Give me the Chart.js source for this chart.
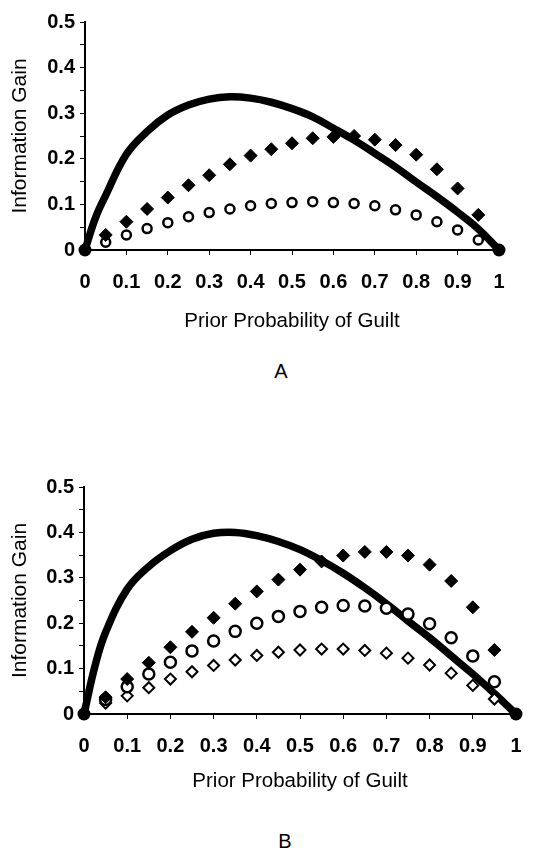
<!DOCTYPE html>
<html>
<head>
<meta charset="utf-8">
<script src="https://cdn.jsdelivr.net/npm/chart.js@4.4.0/dist/chart.umd.min.js"></script>
<style>
    body { margin: 0; background: #fff; }
    #page { position: relative; width: 546px; height: 848px; overflow: hidden; font-family: "Liberation Sans", Arial, sans-serif; }
    canvas { position: absolute; left: 0; }
    .panel-label { position: absolute; width: 40px; text-align: center; font-size: 20px; color: #000; }
</style>
</head>
<body>
<div id="page">
    <canvas id="chart-a" width="546" height="334" style="top:0px"></canvas>
    <canvas id="chart-b" width="546" height="354" style="top:440px"></canvas>
    <div class="panel-label" style="left:261px; top:360px;">A</div>
    <div class="panel-label" style="left:265px; top:830px;">B</div>
</div>
<script>
// x positions of the markers and of the curve
const pointX = [0.05, 0.1, 0.15, 0.2, 0.25, 0.3, 0.35, 0.4, 0.45, 0.5, 0.55, 0.6, 0.65, 0.7, 0.75, 0.8, 0.85, 0.9, 0.95];
const curveX = [0, 0.025, 0.05, 0.1, 0.15, 0.2, 0.25, 0.3, 0.35, 0.4, 0.45, 0.5, 0.55, 0.6, 0.65, 0.7, 0.75, 0.8, 0.85, 0.9, 0.95, 1];

const xTickLabels = ["0", "0.1", "0.2", "0.3", "0.4", "0.5", "0.6", "0.7", "0.8", "0.9", "1"];
const yTickLabels = ["0", "0.1", "0.2", "0.3", "0.4", "0.5"];

// panel A
const curveA = [0, 0.07, 0.12, 0.21, 0.26, 0.296, 0.318, 0.331, 0.336, 0.333, 0.324, 0.31, 0.292, 0.267, 0.241, 0.212, 0.182, 0.149, 0.117, 0.083, 0.046, 0];
const filledDiamondsA = [0.033, 0.062, 0.09, 0.115, 0.142, 0.164, 0.188, 0.207, 0.221, 0.234, 0.245, 0.248, 0.25, 0.242, 0.23, 0.209, 0.177, 0.135, 0.077];
const circlesA = [0.017, 0.033, 0.047, 0.06, 0.073, 0.082, 0.09, 0.097, 0.102, 0.104, 0.106, 0.104, 0.102, 0.097, 0.088, 0.077, 0.062, 0.044, 0.022];

// panel B
const curveB = [0, 0.104, 0.18, 0.275, 0.325, 0.36, 0.385, 0.398, 0.4, 0.393, 0.38, 0.362, 0.338, 0.31, 0.278, 0.243, 0.205, 0.168, 0.128, 0.088, 0.045, 0];
const filledDiamondsB = [0.037, 0.077, 0.113, 0.147, 0.181, 0.212, 0.243, 0.27, 0.296, 0.318, 0.336, 0.349, 0.357, 0.357, 0.349, 0.329, 0.293, 0.235, 0.141];
const circlesB = [0.032, 0.06, 0.088, 0.114, 0.139, 0.161, 0.182, 0.2, 0.215, 0.226, 0.235, 0.239, 0.238, 0.233, 0.22, 0.199, 0.168, 0.128, 0.071];
const openDiamondsB = [0.024, 0.04, 0.058, 0.077, 0.093, 0.107, 0.119, 0.129, 0.136, 0.141, 0.143, 0.143, 0.14, 0.134, 0.123, 0.108, 0.09, 0.063, 0.033];

const FONT = "'Liberation Sans', Arial, sans-serif";

function toPoints(xs, ys) {
    return xs.map(function(x, i) { return {x: x, y: ys[i]}; });
}

function markerSet(values, style, radius, fill, borderWidth) {
    return {
        data: toPoints(pointX, values),
        pointStyle: style,
        pointRadius: radius,
        pointBackgroundColor: fill,
        pointBorderColor: "#000",
        pointBorderWidth: borderWidth,
        showLine: false,
        clip: false
    };
}

function curveSet(values) {
    return {
        data: toPoints(curveX, values),
        showLine: true,
        borderColor: "#000",
        borderWidth: 7.5,
        tension: 0.4,
        pointRadius: function(ctx) {
            return (ctx.dataIndex === 0 || ctx.dataIndex === curveX.length - 1) ? 6.5 : 0;
        },
        pointBackgroundColor: "#000",
        pointBorderWidth: 0,
        clip: false
    };
}

/**
 * Draws one panel; the curve comes last so it is painted under the markers
 */
function drawPanel(canvasId, datasets, box) {
    const configChart = {
        type: "scatter",
        data: { datasets: datasets },
        options: {
            responsive: false,
            animation: false,
            layout: { padding: { top: box.top, right: box.right, bottom: 0, left: 0 } },
            plugins: { legend: { display: false }, tooltip: { enabled: false } },
            scales: {
                x: {
                    type: "linear",
                    min: 0,
                    max: 1,
                    border: { color: "#000", width: 2 },
                    grid: { drawOnChartArea: false, drawTicks: true, tickLength: 5, color: "#000", lineWidth: 1 },
                    ticks: {
                        stepSize: 0.1,
                        padding: 15,
                        color: "#000",
                        maxRotation: 0,
                        autoSkip: false,
                        font: { family: FONT, size: 20, weight: "bold" },
                        callback: function(value, index) { return xTickLabels[index]; }
                    },
                    title: {
                        display: true,
                        text: "Prior Probability of Guilt",
                        color: "#000",
                        font: { family: FONT, size: 20.5 },
                        padding: { top: 0, bottom: 0 }
                    },
                    afterFit: function(scale) { scale.height = box.xHeight; }
                },
                y: {
                    type: "linear",
                    min: 0,
                    max: 0.5,
                    border: { color: "#000", width: 2 },
                    grid: { drawOnChartArea: false, drawTicks: true, tickLength: 5, color: "#000", lineWidth: 1 },
                    ticks: {
                        stepSize: 0.05,
                        padding: 5,
                        color: "#000",
                        autoSkip: false,
                        font: { family: FONT, size: 20, weight: "bold" },
                        callback: function(value, index) { return index % 2 === 0 ? yTickLabels[index / 2] : ""; }
                    },
                    title: {
                        display: true,
                        text: "Information Gain",
                        color: "#000",
                        font: { family: FONT, size: 21 },
                        padding: { top: 8, bottom: 0 }
                    },
                    afterFit: function(scale) { scale.width = box.yWidth; }
                }
            }
        }
    };

    return new Chart(document.getElementById(canvasId), configChart);
}

drawPanel("chart-a", [
    markerSet(filledDiamondsA, "rectRot", 6.5, "#000", 1),
    markerSet(circlesA, "circle", 4.5, "#fff", 2.5),
    curveSet(curveA)
], { top: 22, right: 47, xHeight: 84, yWidth: 85 });

drawPanel("chart-b", [
    markerSet(filledDiamondsB, "rectRot", 6.5, "#000", 1),
    markerSet(circlesB, "circle", 5.5, "#fff", 2.5),
    markerSet(openDiamondsB, "rectRot", 5.5, "#fff", 2),
    curveSet(curveB)
], { top: 47, right: 30, xHeight: 80, yWidth: 84 });
</script>
</body>
</html>
